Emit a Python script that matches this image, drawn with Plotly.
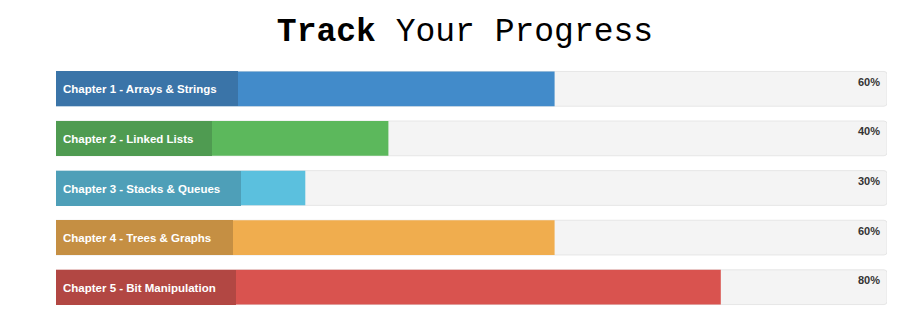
import plotly.graph_objects as go

# ---- data ----
chapters = [
    "Chapter 1 - Arrays & Strings",
    "Chapter 2 - Linked Lists",
    "Chapter 3 - Stacks & Queues",
    "Chapter 4 - Trees & Graphs",
    "Chapter 5 - Bit Manipulation",
]
progress = [60, 40, 30, 60, 80]
pct_labels = ["60%", "40%", "30%", "60%", "80%"]

# ---- styles ----
fill_colors = ["#428bca", "#5cb85c", "#5bc0de", "#f0ad4e", "#d9534f"]
label_colors = ["#3a74a8", "#4f9b51", "#4e9fb8", "#c58f43", "#b24743"]
label_box_px = [182, 156, 185, 177, 180]
track_color = "#f4f4f4"

fig = go.Figure()

# background track
fig.add_trace(go.Bar(
    y=chapters, x=[100] * len(chapters), orientation="h",
    marker=dict(color=track_color, line=dict(color="#e6e6e6", width=1), cornerradius=3),
    hoverinfo="skip", showlegend=False,
))
# progress fill
fig.add_trace(go.Bar(
    y=chapters, x=progress, orientation="h",
    marker=dict(color=fill_colors, line=dict(width=0), cornerradius=3),
    showlegend=False,
))

for i, ch in enumerate(chapters):
    # chapter label box
    fig.add_annotation(
        x=0, y=ch, xref="x", yref="y", xanchor="left", yanchor="middle",
        text=ch, showarrow=False, align="left", valign="middle",
        bgcolor=label_colors[i], borderpad=7, borderwidth=0,
        width=label_box_px[i] - 14, height=35 - 14,
        font=dict(family="Liberation Sans, Arial, sans-serif", size=11.5, color="white", weight="bold"),
    )
    # percentage
    fig.add_annotation(
        x=100, y=ch, xref="x", yref="y", xanchor="right", yanchor="top",
        text=pct_labels[i], showarrow=False, xshift=-5, yshift=15,
        font=dict(family="Liberation Sans, Arial, sans-serif", size=11, color="#333333", weight="bold"),
    )

fig.update_layout(
    width=905, height=336,
    margin=dict(l=56, r=18, t=64, b=24),
    barmode="overlay", bargap=0.3,
    plot_bgcolor="white", paper_bgcolor="white",
    title=dict(
        text="<b>Track</b> Your Progress",
        x=465 / 905, xanchor="center", xref="container",
        y=1 - 29 / 336, yanchor="middle", yref="container",
        font=dict(family="Liberation Mono, Courier New, monospace", size=33, color="black"),
    ),
    xaxis=dict(range=[0, 100], visible=False, fixedrange=True),
    yaxis=dict(autorange="reversed", visible=False, fixedrange=True),
)

fig.write_html("out.html")
